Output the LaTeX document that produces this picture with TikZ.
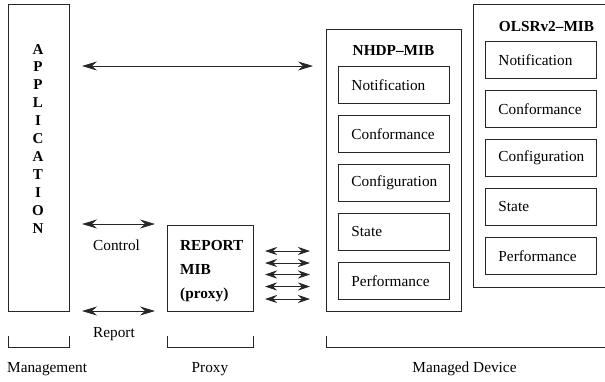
\documentclass[tikz,border=0pt]{standalone}
\usepackage{fontspec}
\setmainfont{Liberation Serif}
\usetikzlibrary{arrows.meta}
\begin{document}
\begin{tikzpicture}[x=1pt,y=-1pt,
  line/.style={draw=black!85, line width=0.9pt},
  box/.style={line, inner sep=0pt, anchor=north west},
  item/.style={box, minimum width=111pt, minimum height=36.5pt, text width=85pt, align=left,
    font=\fontsize{15.3}{18}\selectfont},
  lbl/.style={font=\fontsize{15.3}{18}\selectfont, inner sep=0pt},
  title/.style={font=\bfseries\fontsize{15.3}{18}\selectfont, inner sep=0pt, anchor=base},
  biarrow/.style={draw=black!85, line width=0.9pt, {Stealth[length=15pt,width=9pt,inset=5pt]}-{Stealth[length=15pt,width=9pt,inset=5pt]}},
  smallarrow/.style={draw=black!85, line width=0.9pt, {Stealth[length=12pt,width=8pt,inset=4pt]}-{Stealth[length=12pt,width=8pt,inset=4pt]}},
]
\clip (0,0) rectangle (605,381);
\useasboundingbox (0,0) rectangle (605,381);

% Application
\node[box, minimum width=61pt, minimum height=307pt] (app) at (8,4) {};
\node[inner sep=0pt, anchor=north, align=center, font=\bfseries\fontsize{15}{17.9}\selectfont] (apptext) at (38,43.9)
  {A\\P\\P\\L\\I\\C\\A\\T\\I\\O\\N};

% Report MIB proxy
\node[box, minimum width=86pt, minimum height=86pt] (rep) at (167,225) {};
\node[inner sep=0pt, anchor=north west, align=left, font=\bfseries\fontsize{15.3}{24}\selectfont] (reptext) at (180,240.5)
  {REPORT\\MIB\\(proxy)};

% NHDP-MIB
\node[box, minimum width=135pt, minimum height=282pt] (nhdp) at (326,29) {};
\node[title] (nhdpt) at (393.5,55) {NHDP--MIB};
\node[item] (n1) at (338,66) {Notification};
\node[item] (n2) at (338,115) {Conformance};
\node[item] (n3) at (338,164) {Configuration};
\node[item] (n4) at (338,213) {State};
\node[item] (n5) at (338,262) {Performance};

% OLSRv2-MIB
\node[box, minimum width=150pt, minimum height=283pt] (olsr) at (473,4) {};
\node[title] (olsrt) at (546.5,31) {OLSRv2--MIB};
\node[item] (o1) at (485,41) {Notification};
\node[item] (o2) at (485,90) {Conformance};
\node[item] (o3) at (485,139) {Configuration};
\node[item] (o4) at (485,188) {State};
\node[item] (o5) at (485,237) {Performance};

% arrow end points
\coordinate (t1) at (82,66);   \coordinate (t2) at (313,66);
\coordinate (c1) at (82,224);  \coordinate (c2) at (155,224);
\coordinate (r1) at (82,311);  \coordinate (r2) at (155,311);
\draw[biarrow] (t1) -- (t2);
\draw[biarrow] (c1) -- (c2);
\draw[biarrow] (r1) -- (r2);
\foreach \yy [count=\i] in {251,263,274.5,286.5,299}{
  \coordinate (sa\i) at (265,\yy);
  \coordinate (sb\i) at (310,\yy);
  \draw[smallarrow] (sa\i) -- (sb\i);
}

\node[lbl, anchor=base west] (ctl) at (93,250) {Control};
\node[lbl, anchor=base west] (rpt) at (93,337) {Report};

% brackets
\coordinate (bm1) at (8,336);   \coordinate (bm2) at (69,336);
\coordinate (bp1) at (167,336); \coordinate (bp2) at (253,336);
\coordinate (bd1) at (326,336); \coordinate (bd2) at (615,336);
\draw[line] (bm1) -- ++(0,11) -| (bm2);
\draw[line] (bp1) -- ++(0,11) -| (bp2);
\draw[line] (bd1) -- ++(0,11) -- (bd2 |- 0,347);

\node[lbl, anchor=base west] (lm) at (7,372.5) {Management};
\node[lbl, anchor=base] (lp) at (210,372.5) {Proxy};
\node[lbl, anchor=base] (ld) at (464.5,372.5) {Managed Device};
\end{tikzpicture}
\end{document}
